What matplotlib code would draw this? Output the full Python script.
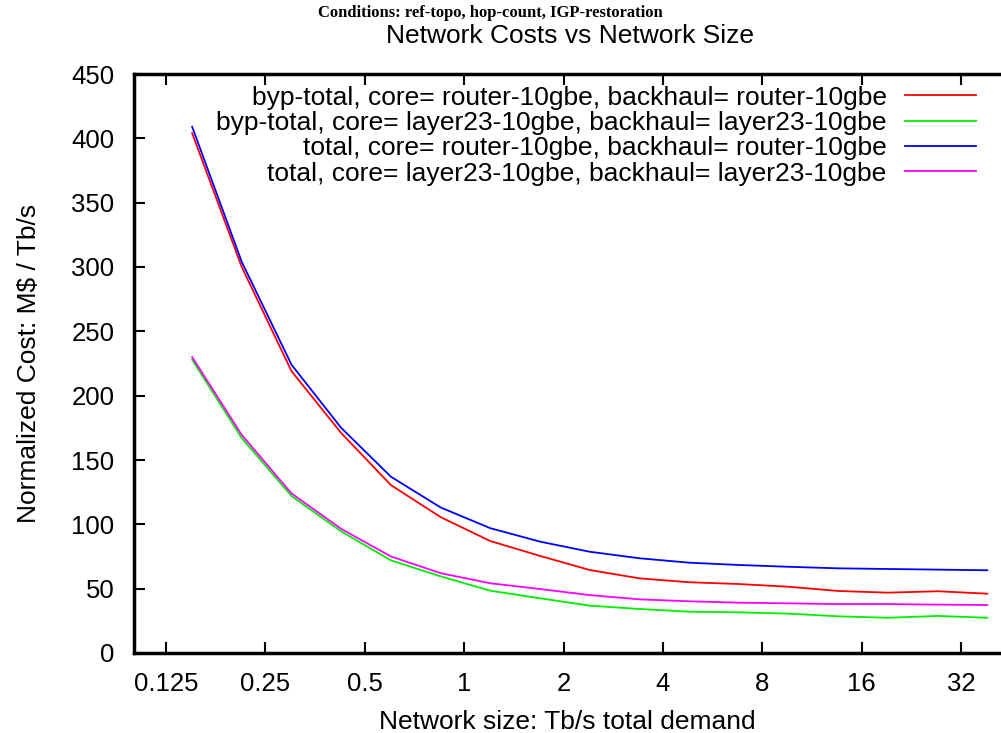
import matplotlib
matplotlib.use("Agg")
import matplotlib.pyplot as plt
import numpy as np

plt.rcParams['font.family'] = ['Liberation Sans', 'DejaVu Sans']

# network size (Tb/s total demand)
size = [0.15, 0.212, 0.3, 0.424, 0.6, 0.85, 1.2, 1.7, 2.4, 3.4, 4.8, 6.8, 9.6, 13.6, 19.2, 27.2, 38.4]

byp_router = [404, 300, 219, 171, 130.5, 105.5, 87, 75.4, 64.5, 58, 55, 53.6, 51.5, 48.2, 46.9, 48, 46.1]
byp_layer23 = [228, 167, 122, 94.5, 72, 59.5, 48.4, 42.5, 36.8, 34.2, 32.1, 31.6, 30.6, 28.5, 27.4, 28.8, 27.4]
tot_router = [409, 304, 224, 175, 137, 113, 97, 86.5, 78.7, 73.6, 70.2, 68.4, 67, 65.8, 65.3, 64.8, 64.3]
tot_layer23 = [230, 169.5, 124, 96.5, 75, 62, 54.2, 49.7, 45, 41.7, 40.2, 39.1, 38.6, 38, 38, 37.6, 37.3]

labels = ["byp-total, core= router-10gbe, backhaul= router-10gbe",
          "byp-total, core= layer23-10gbe, backhaul= layer23-10gbe",
          "total, core= router-10gbe, backhaul= router-10gbe",
          "total, core= layer23-10gbe, backhaul= layer23-10gbe"]
colors = ["#ff0000", "#00ee00", "#0000ff", "#ff00ff"]

xticks = [0.125, 0.25, 0.5, 1, 2, 4, 8, 16, 32]
xticklabels = ["0.125", "0.25", "0.5", "1", "2", "4", "8", "16", "32"]

fig = plt.figure(figsize=(10.01, 7.33), dpi=100)
ax = fig.add_axes([134/1001, 1 - 653/733, 867/1001, 579/733])

for ys, lab, c in zip([byp_router, byp_layer23, tot_router, tot_layer23], labels, colors):
    ax.plot(size, ys, color=c, lw=1.3, label=lab)

ax.set_xscale('log', base=2)
ax.set_xlim(0.1, 0.1 * 2 ** (867 / 99.4))
ax.set_ylim(0, 450)
ax.set_xticks(xticks)
ax.set_xticklabels(xticklabels)
ax.minorticks_off()
ax.set_yticks(np.arange(0, 451, 50))
ax.tick_params(direction='in', length=8, width=1.5, labelsize=18.5, top=True, right=False)
ax.tick_params(axis='y', pad=14)
ax.tick_params(axis='x', pad=14)
for s in ax.spines.values():
    s.set_linewidth(2.5)
ax.spines['right'].set_visible(False)

ax.set_xlabel("Network size: Tb/s total demand", fontsize=19, labelpad=10)
ax.set_ylabel("Normalized Cost: M\\$ / Tb/s", fontsize=19, labelpad=22)

leg = ax.legend(loc='upper right', bbox_to_anchor=(987/1001, 1 - 75/733), bbox_transform=fig.transFigure,
                frameon=False, fontsize=19, markerfirst=False, handlelength=2.7,
                labelspacing=0.05, handletextpad=0.7, borderaxespad=0)
for t in leg.get_texts():
    t.set_ha('right')
leg._legend_box.align = 'right'

fig.text(570/1001, 1 - 36/733, "Network Costs vs Network Size", ha='center', va='center', fontsize=19)
fig.text(490/1001, 1 - 13/733, "Conditions: ref-topo, hop-count, IGP-restoration", ha='center', va='center',
         fontsize=12, fontweight='bold', family=['Liberation Serif', 'DejaVu Serif'])

fig.savefig("out.png", dpi=100)
